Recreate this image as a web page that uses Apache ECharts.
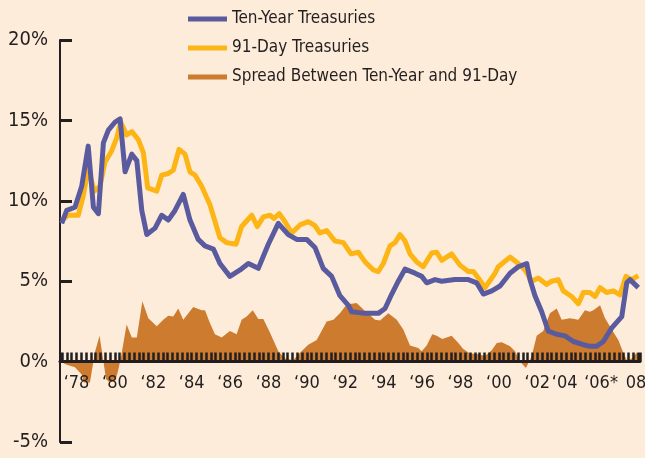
<html>
<head>
<meta charset="utf-8">
<script src="https://cdn.jsdelivr.net/npm/echarts@6/dist/echarts.min.js"></script>
<style>
  body { margin: 0; background: #fdecd9; }
  #chart { width: 645px; height: 458px; }
</style>
</head>
<body>
<div id="chart"></div>
<script>
// Ten-Year Treasuries (purple line), decimal years and percent
var tenYearDates = [1977.23, 1977.49, 1977.92, 1978.27, 1978.61, 1978.88, 1979.14, 1979.40, 1979.66, 1980.01,
  1980.27, 1980.53, 1980.88, 1981.14, 1981.40, 1981.66, 1982.09, 1982.44, 1982.78, 1983.13,
  1983.56, 1983.91, 1984.34, 1984.69, 1985.13, 1985.47, 1985.99, 1986.52, 1986.95, 1987.47,
  1987.99, 1988.51, 1989.03, 1989.47, 1989.99, 1990.42, 1990.85, 1991.29, 1991.72, 1992.16,
  1992.33, 1993.03, 1993.72, 1994.07, 1994.42, 1994.76, 1995.11, 1995.63, 1995.98, 1996.24,
  1996.67, 1997.02, 1997.71, 1998.41, 1998.84, 1999.19, 1999.63, 2000.06, 2000.58, 2001.01,
  2001.45, 2001.62, 2001.88, 2002.23, 2002.57, 2003.01, 2003.44, 2003.88, 2004.40, 2004.74,
  2005.09, 2005.44, 2005.88, 2006.40, 2006.66, 2006.83, 2007.26];
var tenYearRates = [8.6, 9.4, 9.6, 10.9, 13.4, 9.6, 9.2, 13.6, 14.4, 14.9,
  15.1, 11.8, 12.9, 12.5, 9.4, 7.9, 8.3, 9.1, 8.8, 9.4,
  10.4, 8.8, 7.6, 7.2, 7.0, 6.1, 5.3, 5.7, 6.1, 5.8,
  7.3, 8.6, 7.9, 7.6, 7.6, 7.1, 5.8, 5.3, 4.1, 3.5,
  3.1, 3.0, 3.0, 3.3, 4.2, 5.0, 5.75, 5.5, 5.3, 4.9,
  5.1, 5.0, 5.1, 5.1, 4.9, 4.2, 4.4, 4.7, 5.5, 5.9,
  6.1, 5.1, 4.1, 3.1, 1.9, 1.7, 1.6, 1.25, 1.05, 0.95,
  0.95, 1.25, 2.1, 2.8, 4.9, 5.1, 4.6];

// 91-Day Treasuries (yellow line)
var billDates = [1977.23, 1977.57, 1978.09, 1978.35, 1978.61, 1978.93, 1979.22, 1979.48, 1979.83, 1980.09,
  1980.30, 1980.61, 1980.88, 1981.22, 1981.48, 1981.71, 1982.18, 1982.44, 1982.78, 1983.04,
  1983.34, 1983.65, 1983.91, 1984.17, 1984.52, 1984.95, 1985.47, 1985.82, 1986.31, 1986.60,
  1987.13, 1987.42, 1987.73, 1988.08, 1988.29, 1988.56, 1988.86, 1989.21, 1989.64, 1990.07,
  1990.42, 1990.68, 1991.03, 1991.46, 1991.90, 1992.30, 1992.68, 1993.03, 1993.46, 1993.72,
  1993.98, 1994.33, 1994.59, 1994.85, 1995.11, 1995.37, 1995.72, 1996.06, 1996.50, 1996.76,
  1997.02, 1997.54, 1997.97, 1998.41, 1998.67, 1998.93, 1999.28, 1999.63, 1999.80, 1999.97,
  2000.58, 2001.01, 2001.36, 2001.71, 2002.05, 2002.49, 2002.75, 2003.09, 2003.35, 2003.79,
  2004.14, 2004.40, 2004.74, 2005.01, 2005.27, 2005.61, 2005.96, 2006.31, 2006.62, 2006.92,
  2007.26];
var billRates = [8.8, 9.1, 9.1, 10.3, 12.0, 10.6, 10.9, 12.4, 13.1, 13.9,
  14.9, 14.1, 14.3, 13.8, 13.0, 10.8, 10.6, 11.6, 11.7, 11.9,
  13.2, 12.9, 11.8, 11.6, 10.9, 9.75, 7.7, 7.4, 7.3, 8.4,
  9.1, 8.4, 9.0, 9.1, 8.9, 9.2, 8.7, 8.0, 8.5, 8.7,
  8.45, 8.0, 8.15, 7.5, 7.4, 6.7, 6.8, 6.2, 5.7, 5.6,
  6.1, 7.2, 7.4, 7.9, 7.5, 6.7, 6.2, 5.9, 6.75, 6.8,
  6.3, 6.7, 6.0, 5.6, 5.6, 5.2, 4.6, 5.2, 5.5, 5.9,
  6.5, 6.1, 5.7, 5.0, 5.2, 4.8, 5.0, 5.1, 4.4, 4.05,
  3.6, 4.3, 4.3, 4.05, 4.6, 4.3, 4.4, 4.15, 5.3, 5.1,
  5.35];

// Spread Between Ten-Year and 91-Day (orange area)
var spreadDates = [1977.14, 1977.23, 1977.49, 1977.92, 1978.27, 1978.39, 1978.70, 1978.96, 1979.20, 1979.38,
  1979.54, 1979.74, 1980.01, 1980.16, 1980.32, 1980.61, 1980.88, 1981.14, 1981.43, 1981.74,
  1982.18, 1982.52, 1982.78, 1983.04, 1983.30, 1983.56, 1984.08, 1984.52, 1984.69, 1984.95,
  1985.21, 1985.56, 1985.99, 1986.34, 1986.60, 1986.86, 1987.18, 1987.47, 1987.73, 1988.08,
  1988.51, 1988.86, 1989.29, 1989.64, 1990.07, 1990.51, 1991.03, 1991.38, 1991.72, 1992.07,
  1992.59, 1993.03, 1993.55, 1993.81, 1994.24, 1994.68, 1995.02, 1995.37, 1995.80, 1995.98,
  1996.24, 1996.53, 1996.76, 1997.05, 1997.54, 1997.89, 1998.13, 1998.49, 1998.93, 1999.28,
  1999.63, 1999.89, 2000.15, 2000.58, 2000.84, 2001.10, 2001.41, 2001.71, 2001.97, 2002.31,
  2002.66, 2003.01, 2003.27, 2003.70, 2004.14, 2004.48, 2004.74, 2004.92, 2005.27, 2005.53,
  2005.88, 2006.22, 2006.48, 2006.66, 2006.92, 2007.18, 2007.35];
var spreadValues = [0, -0.1, -0.2, -0.35, -0.8, -1.3, -1.3, 0.6, 1.6, 0.2,
  -1.1, -1.3, -1.2, -0.6, 0.3, 2.3, 1.5, 1.5, 3.75, 2.7,
  2.2, 2.6, 2.85, 2.8, 3.3, 2.6, 3.4, 3.2, 3.2, 2.4,
  1.7, 1.5, 1.9, 1.7, 2.6, 2.8, 3.2, 2.65, 2.65, 1.8,
  0.65, 0.2, 0.1, 0.55, 1.05, 1.35, 2.5, 2.6, 3.0, 3.55,
  3.65, 3.15, 2.6, 2.55, 3.0, 2.6, 2.0, 1.0, 0.85, 0.65,
  1.0, 1.7, 1.6, 1.4, 1.6, 1.15, 0.8, 0.5, 0.45, 0.35,
  0.7, 1.15, 1.2, 0.95, 0.65, 0, -0.4, 0.35, 1.6, 1.9,
  3.0, 3.3, 2.6, 2.7, 2.6, 3.2, 3.1, 3.2, 3.5, 2.7,
  2.0, 1.35, 0.55, 0.1, 0.2, 0.55, 0.5];

// x tick labels (the last one sits at the right end of the axis)
var tickYears = [1978, 1980, 1982, 1984, 1986, 1988, 1990, 1992, 1994, 1996, 1998, 2000, 2002, 2004, 2006];
var tickLabels = ['‘78', '‘80', '‘82', '‘84', '‘86', '‘88', '‘90', '‘92', '‘94', '‘96', '‘98', '‘00', '‘02', '‘04', '‘06*'];
var endLabel = '08*';

var seriesNames = ['Ten-Year Treasuries', '91-Day Treasuries', 'Spread Between Ten-Year and 91-Day'];

function pairs(xs, ys) {
  return xs.map(function (x, i) { return [x, ys[i]]; });
}

var ink = '#231f20';
var font = '"Liberation Sans Narrow", "DejaVu Sans Condensed", "Liberation Sans", sans-serif';
var xMin = 1977.14, xMax = 2007.35;
var labelText = { fontFamily: font, fontSize: 18, color: ink };

var chart = echarts.init(document.getElementById('chart'));
chart.setOption({
  backgroundColor: '#fdecd9',
  animation: false,
  textStyle: { fontFamily: font, color: ink },
  legend: {
    orient: 'vertical',
    left: 188,
    top: 9,
    padding: 0,
    itemWidth: 39,
    itemHeight: 5,
    itemGap: 9,
    icon: 'rect',
    data: seriesNames,
    textStyle: { fontFamily: font, fontSize: 17, color: ink, lineHeight: 20 }
  },
  grid: { left: 60, top: 40, bottom: 16, width: 580, outerBoundsMode: 'none' },
  xAxis: [
    {
      type: 'value',
      min: xMin,
      max: xMax,
      splitNumber: 15,
      z: 5,
      axisLine: { onZero: true, lineStyle: { color: ink, width: 3 } },
      axisTick: { inside: true, length: 9, lineStyle: { color: ink, width: 2.5 } },
      minorTick: { show: true, splitNumber: 8, length: 9, lineStyle: { color: ink, width: 2.5 } },
      splitLine: { show: false },
      axisLabel: {
        fontFamily: font, fontSize: 18, color: ink, margin: -68,
        showMaxLabel: false,
        formatter: function (v) {
          var i = tickYears.indexOf(Math.round(v * 100) / 100);
          if (i < 0) return '';
          if (i === tickYears.length - 1) return '{b|' + tickLabels[i] + '}';
          if (i === tickYears.length - 2) return '{a|' + tickLabels[i] + '}';
          return tickLabels[i];
        },
        // the two last labels are set a little to the left, as in the original
        rich: {
          a: Object.assign({ padding: [0, 22, 0, 0] }, labelText),
          b: Object.assign({ padding: [0, 26, 0, 0] }, labelText)
        }
      }
    },
    {
      // carries only the label at the right end of the axis
      type: 'value',
      position: 'bottom',
      min: xMin,
      max: xMax,
      splitNumber: 15,
      axisLine: { show: false },
      axisTick: { show: false },
      splitLine: { show: false },
      axisLabel: {
        fontFamily: font, fontSize: 18, color: ink, margin: -68,
        showMaxLabel: true,
        formatter: function (v) { return Math.abs(v - xMax) < 0.01 ? endLabel : ''; }
      }
    }
  ],
  yAxis: {
    type: 'value',
    min: -5,
    max: 20,
    interval: 5,
    axisLine: { show: true, lineStyle: { color: ink, width: 2 } },
    axisTick: { show: true, inside: true, length: 12, lineStyle: { color: ink, width: 3 } },
    splitLine: { show: false },
    axisLabel: { fontFamily: font, fontSize: 20, color: ink, margin: 12, formatter: '{value}%' }
  },
  series: [
    {
      name: seriesNames[2],
      type: 'line',
      data: pairs(spreadDates, spreadValues),
      symbol: 'none',
      color: '#cd7b2e',
      lineStyle: { width: 0 },
      areaStyle: { color: '#cd7b2e', opacity: 1 },
      z: 1
    },
    {
      name: seriesNames[1],
      type: 'line',
      data: pairs(billDates, billRates),
      symbol: 'none',
      color: '#fdb515',
      lineStyle: { width: 5, color: '#fdb515', join: 'round' },
      z: 3
    },
    {
      name: seriesNames[0],
      type: 'line',
      data: pairs(tenYearDates, tenYearRates),
      symbol: 'none',
      color: '#5a5b9f',
      lineStyle: { width: 5, color: '#5a5b9f', join: 'round' },
      z: 4
    }
  ]
});
</script>
</body>
</html>
